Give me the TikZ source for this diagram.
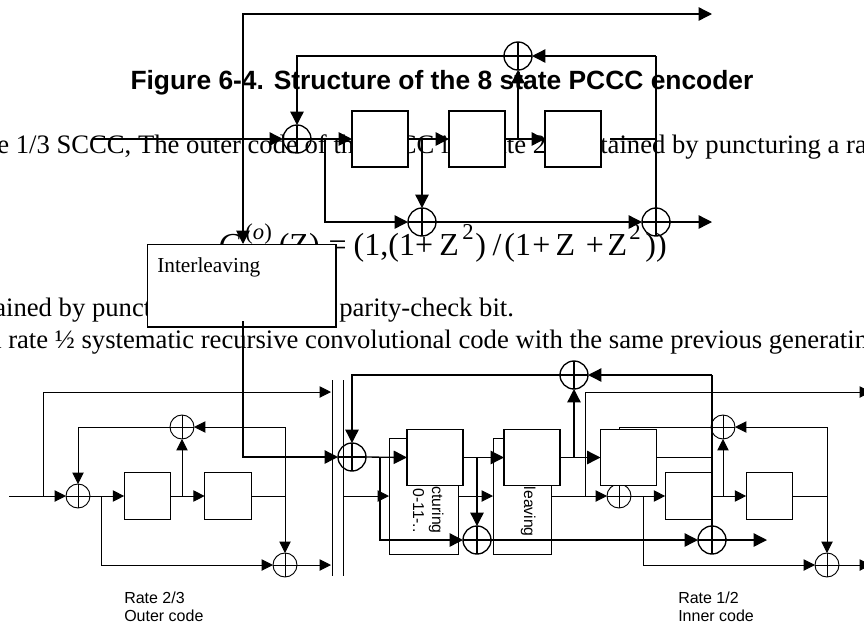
\documentclass[tikz,border=0pt]{standalone}
\usepackage{fontspec}
\setmainfont{Liberation Serif}
\setsansfont{Liberation Sans}
\usepackage{tikz}
\usetikzlibrary{arrows.meta,positioning,calc}
\newcommand{\supfml}[1]{\raisebox{12pt}{\fontsize{17pt}{20pt}\selectfont #1}}
\tikzset{
  line thk/.style={line width=1pt},
  line thn/.style={line width=0.7pt},
  tipthk/.style={-{Triangle[length=10pt,width=10pt]}},
  tipthn/.style={-{Triangle[length=8.5pt,width=8.5pt]}},
  xorgate/.style={circle,draw,inner sep=0pt,outer sep=0pt,
    path picture={\draw (path picture bounding box.north) -- (path picture bounding box.south)
      (path picture bounding box.west) -- (path picture bounding box.east);}},
  xorthk/.style={xorgate,line thk,minimum size=21pt},
  xorthn/.style={xorgate,line thn,minimum size=18pt},
  regthk/.style={rectangle,draw,fill=white,line thk,inner sep=0pt,outer sep=0pt,
    minimum width=42pt,minimum height=42pt},
  regthn/.style={rectangle,draw,fill=white,line thn,inner sep=0pt,outer sep=0pt,
    minimum width=35pt,minimum height=35pt},
  bodytxt/.style={anchor=base west,inner sep=0pt,font=\fontsize{20pt}{24pt}\selectfont},
  labeltxt/.style={anchor=base west,inner sep=0pt,font=\sffamily\fontsize{12pt}{14pt}\selectfont},
  sidetxt/.style={anchor=base east,rotate=-90,inner sep=0pt,font=\sffamily\fontsize{11.8pt}{14pt}\selectfont},
}
\begin{document}
\begin{tikzpicture}[x=0.75pt,y=-0.75pt]
  \useasboundingbox (0,0) rectangle (864,626);

  % page text behind the figure
  \node[anchor=base,inner sep=0pt,font=\sffamily\bfseries\fontsize{19.8pt}{24pt}\selectfont] (title) at (442,89)
    {Figure 6-4. Structure of the 8 state PCCC encoder};
  \node[bodytxt] (textba) at (-3,153) {e 1/3 SCCC, The outer code of the};
  \node[bodytxt] (textbb) at (366,153) {SCCC is};
  \node[bodytxt] (textbc) at (486,153) {rate 2/3 obtained by puncturing a rate};
  \node[bodytxt,font=\fontsize{24pt}{28pt}\selectfont] (genpoly) at (218,255)
    {\textit{G}\kern3pt\supfml{(\textit{o})}\kern5.25pt(Z)\kern6.75pt=\kern5.25pt(1,(1+\kern4.8pt Z\kern2.55pt\supfml{2}\kern1.3pt)\kern4.8pt/\kern2.25pt(1\kern1.05pt+\kern3.75pt Z\kern8pt+\kern2.8pt Z\kern1.8pt\supfml{2}\kern3.5pt))};
  \node[bodytxt] (textc) at (-6,316) {ained by punct};
  \node[bodytxt] (textd) at (339,316) {parity-check bit.};
  \node[bodytxt] (texte) at (-10.5,348) {a rate ½ systematic recursive convolutional code with the same previous generating};

  % upper encoder
  \node[xorthk] (xorTa) at (297,139) {};
  \node[xorthk] (xorTb) at (518,56) {};
  \node[xorthk] (xorTc) at (422,222) {};
  \node[xorthk] (xorTd) at (656,222) {};
  \node[regthk] (regTa) at (380,139) {};
  \node[regthk] (regTb) at (477,139) {};
  \node[regthk] (regTc) at (573,139) {};
  \coordinate (topin) at (92,139);
  \coordinate (topjoin) at (243,139);
  \coordinate (topout) at (712,14);
  \coordinate (botout) at (712,222);
  \coordinate (topcorner) at (656,56);
  \coordinate (tapTa) at (325,139);
  \coordinate (tapTb) at (422,139);
  \coordinate (tapTc) at (518,139);
  \coordinate (tapTd) at (610,139);
  \draw[line thk,tipthk] (topin) -- (xorTa.west);
  \draw[line thk,tipthk] (topjoin) |- (topout);
  \draw[line thk,tipthk] (xorTb.west) -| (xorTa.north);
  \draw[line thk,tipthk] (topcorner) -- (xorTb.east);
  \draw[line thk] (topcorner) -- (xorTd.north);
  \draw[line thk,tipthk] (xorTa.east) -- (regTa.west);
  \draw[line thk,tipthk] (regTa.east) -- (regTb.west);
  \draw[line thk,tipthk] (regTb.east) -- (regTc.west);
  \draw[line thk] (tapTd) -- (tapTd -| topcorner);
  \draw[line thk,tipthk] (tapTa) |- (xorTc.west);
  \draw[line thk,tipthk] (tapTb) -- (xorTc.north);
  \draw[line thk,tipthk] (tapTc) -- (xorTb.south);
  \draw[line thk,tipthk] (xorTc.east) -- (xorTd.west);
  \draw[line thk,tipthk] (xorTd.east) -- (botout);

  % interleaver
  \coordinate (ilvin) at (243,244);
  \node[rectangle,draw,fill=white,line thk,inner sep=0pt,outer sep=0pt,
        minimum width=141.5pt,minimum height=62pt] (ilvbox) at (241.5,285.5) {};
  \node[bodytxt,font=\fontsize{16pt}{19pt}\selectfont] (ilvtxt) at (157,272) {Interleaving};
  \draw[line thk,tipthk] (topjoin) -- (ilvin);
  \coordinate (ilvout) at (243,321);

  % outer code
  \node[xorthn] (xorOa) at (78,496) {};
  \node[xorthn] (xorOb) at (182,427) {};
  \node[xorthn] (xorOc) at (285,565) {};
  \node[regthn] (regOa) at (147.5,496) {};
  \node[regthn] (regOb) at (228,496) {};
  \coordinate (outin) at (9,496);
  \coordinate (tapOa) at (43.5,496);
  \coordinate (tapOb) at (101,496);
  \coordinate (tapOc) at (182,496);
  \coordinate (outcorner) at (285,427);
  \coordinate (outa) at (331,392);
  \coordinate (outb) at (331,565);
  \draw[line thn,tipthn] (outin) -- (xorOa.west);
  \draw[line thn,tipthn] (tapOa) |- (outa);
  \draw[line thn,tipthn] (xorOb.west) -| (xorOa.north);
  \draw[line thn,tipthn] (outcorner) -- (xorOb.east);
  \draw[line thn,tipthn] (outcorner) -- (xorOc.north);
  \draw[line thn,tipthn] (xorOa.east) -- (regOa.west);
  \draw[line thn,tipthn] (regOa.east) -- (regOb.west);
  \draw[line thn] (regOb.east) -- (regOb.east -| outcorner);
  \draw[line thn,tipthn] (tapOc) -- (xorOb.south);
  \draw[line thn,tipthn] (tapOb) |- (xorOc.west);
  \draw[line thn,tipthn] (xorOc.east) -- (outb);

  % the two rails
  \coordinate (railat) at (332,380);
  \coordinate (railab) at (332,576);
  \coordinate (railbt) at (343,380);
  \coordinate (railbb) at (343,576);
  \draw[line thn] (railat) -- (railab);
  \draw[line thn] (railbt) -- (railbb);

  % puncturing and interleaving boxes
  \node[rectangle,draw,line thn,inner sep=0pt,outer sep=0pt,minimum width=51.75pt,minimum height=87pt] (punbox) at (423.5,496) {};
  \node[rectangle,draw,line thn,inner sep=0pt,outer sep=0pt,minimum width=43.5pt,minimum height=87pt] (lvbox) at (522,496) {};
  \node[sidetxt] (puntxta) at (432,534) {Puncturing};
  \node[sidetxt] (puntxtb) at (413,533) {0-11-..};
  \node[sidetxt] (lvtxt) at (524,537) {Interleaving};
  \coordinate (railout) at (343,496);
  \draw[line thn,tipthn] (railout) -- (punbox.west);
  \draw[line thn,tipthn] (punbox.east) -- (lvbox.west);

  % inner code
  \node[xorthn] (xorIa) at (619,496) {};
  \node[xorthn] (xorIb) at (723,427) {};
  \node[xorthn] (xorIc) at (827,565) {};
  \node[regthn] (regIa) at (688.5,496) {};
  \node[regthn] (regIb) at (769.5,496) {};
  \coordinate (tapIa) at (585,496);
  \coordinate (tapIb) at (643,496);
  \coordinate (tapIc) at (723,496);
  \coordinate (incorner) at (827,427);
  \coordinate (inouta) at (871,392);
  \coordinate (inoutb) at (871,565);
  \draw[line thn,tipthn] (lvbox.east) -- (xorIa.west);
  \draw[line thn,tipthn] (tapIa) |- (inouta);
  \draw[line thn,tipthn] (xorIb.west) -| (xorIa.north);
  \draw[line thn,tipthn] (incorner) -- (xorIb.east);
  \draw[line thn,tipthn] (incorner) -- (xorIc.north);
  \draw[line thn,tipthn] (xorIa.east) -- (regIa.west);
  \draw[line thn,tipthn] (regIa.east) -- (regIb.west);
  \draw[line thn] (regIb.east) -- (regIb.east -| incorner);
  \draw[line thn,tipthn] (tapIc) -- (xorIb.south);
  \draw[line thn,tipthn] (tapIb) |- (xorIc.west);
  \draw[line thn,tipthn] (xorIc.east) -- (inoutb);

  % lower thick encoder on top
  \node[xorthk] (xorLa) at (352,457) {};
  \node[xorthk] (xorLb) at (574,375) {};
  \node[xorthk] (xorLc) at (477,540) {};
  \node[xorthk] (xorLd) at (712,540) {};
  \node[regthk] (regLa) at (435,457.5) {};
  \node[regthk] (regLb) at (532,457.5) {};
  \node[regthk] (regLc) at (628.5,457.5) {};
  \coordinate (lowcorner) at (712,375);
  \coordinate (tapLa) at (380,457);
  \coordinate (tapLb) at (477,457);
  \coordinate (tapLc) at (574,457);
  \coordinate (lowout) at (767,540);
  \draw[line thk,tipthk] (ilvout) |- (xorLa.west);
  \draw[line thk,tipthk] (xorLb.west) -| (xorLa.north);
  \draw[line thk,tipthk] (lowcorner) -- (xorLb.east);
  \draw[line thk] (lowcorner) -- (xorLd.south);
  \draw[line thk,tipthk] (xorLa.east) -- (regLa.west);
  \draw[line thk,tipthk] (regLa.east) -- (regLb.west);
  \draw[line thk,tipthk] (regLb.east) -- (regLc.west);
  \draw[line thk] (regLc.east) -- (regLc.east -| lowcorner);
  \draw[line thk,tipthk] (tapLa) |- (xorLc.west);
  \draw[line thk,tipthk] (tapLb) -- (xorLc.north);
  \draw[line thk,tipthk] (tapLc) -- (xorLb.south);
  \draw[line thk,tipthk] (xorLc.east) -- (xorLd.west);
  \draw[line thk,tipthk] (xorLd.east) -- (lowout);

  % captions
  \node[labeltxt] (rateO) at (124,603) {Rate 2/3};
  \node[labeltxt] (codeO) at (124,621) {Outer code};
  \node[labeltxt] (rateI) at (678,603) {Rate 1/2};
  \node[labeltxt] (codeI) at (678,621) {Inner code};
\end{tikzpicture}
\end{document}
